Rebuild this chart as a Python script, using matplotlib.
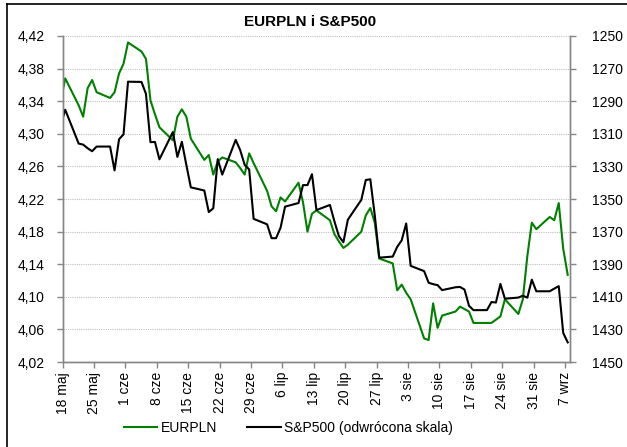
import pandas as pd
import matplotlib
matplotlib.use("Agg")
import matplotlib.pyplot as plt
from matplotlib.lines import Line2D


# Trading days shown on the chart (2012)
dates = [
    "2012-05-17", "2012-05-18", "2012-05-21", "2012-05-22", "2012-05-23",
    "2012-05-24", "2012-05-25", "2012-05-28", "2012-05-29", "2012-05-30",
    "2012-05-31", "2012-06-01", "2012-06-04", "2012-06-05", "2012-06-06",
    "2012-06-07", "2012-06-08", "2012-06-11", "2012-06-12", "2012-06-13",
    "2012-06-14", "2012-06-15", "2012-06-18", "2012-06-19", "2012-06-20",
    "2012-06-21", "2012-06-22", "2012-06-25", "2012-06-26", "2012-06-27",
    "2012-06-28", "2012-06-29", "2012-07-02", "2012-07-03", "2012-07-04",
    "2012-07-05", "2012-07-06", "2012-07-09", "2012-07-10", "2012-07-11",
    "2012-07-12", "2012-07-13", "2012-07-16", "2012-07-17", "2012-07-18",
    "2012-07-19", "2012-07-20", "2012-07-23", "2012-07-24", "2012-07-25",
    "2012-07-26", "2012-07-27", "2012-07-30", "2012-07-31", "2012-08-01",
    "2012-08-02", "2012-08-03", "2012-08-06", "2012-08-07", "2012-08-08",
    "2012-08-09", "2012-08-10", "2012-08-13", "2012-08-14", "2012-08-15",
    "2012-08-16", "2012-08-17", "2012-08-20", "2012-08-21", "2012-08-22",
    "2012-08-23", "2012-08-24", "2012-08-27", "2012-08-28", "2012-08-29",
    "2012-08-30", "2012-08-31", "2012-09-03", "2012-09-04", "2012-09-05",
    "2012-09-06", "2012-09-07",
]

eurpln = [
    4.340, 4.368, 4.335, 4.321, 4.356, 4.366, 4.351, 4.344, 4.351, 4.374,
    4.386, 4.412, 4.401, 4.392, 4.341, 4.324, 4.308, 4.292, 4.321, 4.330,
    4.321, 4.294, 4.268, 4.274, 4.250, 4.266, 4.271, 4.265, 4.258, 4.250,
    4.276, 4.264, 4.230, 4.211, 4.205, 4.222, 4.217, 4.240, 4.216, 4.180,
    4.202, 4.206, 4.194, 4.177, 4.168, 4.160, 4.164, 4.180, 4.200, 4.209,
    4.191, 4.147, 4.141, 4.108, 4.115, 4.105, 4.097, 4.049, 4.047, 4.092,
    4.062, 4.077, 4.082, 4.088, 4.085, 4.082, 4.068, 4.068, 4.068, 4.072,
    4.076, 4.097, 4.079, 4.097, 4.150, 4.191, 4.183, 4.198, 4.194, 4.215,
    4.159, 4.127,
]

sp500 = [
    1304.86, 1295.22, 1315.99, 1316.63, 1318.86, 1320.68, 1317.82, 1317.82,
    1332.42, 1313.32, 1310.33, 1278.04, 1278.18, 1285.50, 1315.13, 1314.99,
    1325.66, 1308.93, 1324.18, 1314.88, 1329.10, 1342.84, 1344.78, 1357.98,
    1355.69, 1325.51, 1335.02, 1313.72, 1319.99, 1329.04, 1331.85, 1362.16,
    1365.51, 1374.02, 1374.02, 1367.58, 1354.68, 1352.46, 1341.47, 1341.45,
    1334.76, 1356.78, 1353.64, 1363.67, 1372.78, 1376.51, 1362.66, 1350.52,
    1338.31, 1337.89, 1360.02, 1385.97, 1385.30, 1379.32, 1375.32, 1365.00,
    1390.99, 1394.23, 1401.35, 1402.22, 1402.80, 1405.87, 1404.11, 1403.93,
    1405.53, 1415.51, 1418.16, 1418.13, 1413.17, 1413.49, 1402.08, 1411.13,
    1410.44, 1409.30, 1410.49, 1399.48, 1406.58, 1406.58, 1404.94, 1403.44,
    1432.12, 1437.92,
]

# Weekly tick labels (Fridays)
tick_labels = [
    "18 maj", "25 maj", "1 cze", "8 cze", "15 cze", "22 cze", "29 cze",
    "6 lip", "13 lip", "20 lip", "27 lip", "3 sie", "10 sie", "17 sie",
    "24 sie", "31 sie", "7 wrz",
]
left_ticks = [4.02, 4.06, 4.10, 4.14, 4.18, 4.22, 4.26, 4.30, 4.34, 4.38, 4.42]
right_ticks = [1250, 1270, 1290, 1310, 1330, 1350, 1370, 1390, 1410, 1430, 1450]

plt.rcParams["font.family"] = ["Liberation Sans", "DejaVu Sans"]
axis_grey = "#868686"

# Days counted from 18 May, points sit inside the day slot like in Excel
start = pd.Timestamp("2012-05-18")
x = (pd.to_datetime(dates) - start).days + 0.6

fig = plt.figure(figsize=(6.27, 4.47), dpi=100)
ax = fig.add_axes([0.0997, 0.190, 0.8086, 0.7295])
ax2 = ax.twinx()

ax.plot(x, eurpln, color="#008000", lw=1.5, label="EURPLN")
ax2.plot(x, sp500, color="black", lw=1.5, label="S&P500 (odwrócona skala)")

# X axis
ax.set_xlim(0, 113)
ax.set_xticks(range(0, 113, 7))
ax.set_xticklabels(tick_labels, rotation=90, fontsize=10)

# Left axis
ax.set_ylim(4.02, 4.42)
ax.set_yticks(left_ticks)
ax.set_yticklabels([f"{v:.2f}".replace(".", ",") for v in left_ticks], fontsize=10)
ax.yaxis.grid(True, linestyle=(0, (1, 1)), color="#c0c0c0", lw=0.8)
ax.set_axisbelow(True)

# Right axis, reversed scale
ax2.set_ylim(1450, 1250)
ax2.set_yticks(right_ticks)
ax2.set_yticklabels([str(v) for v in right_ticks], fontsize=10)

for a in (ax, ax2):
    a.spines["top"].set_visible(False)
    for s in ("left", "right", "bottom"):
        a.spines[s].set_color(axis_grey)
        a.spines[s].set_linewidth(1.0)
    a.tick_params(colors=axis_grey, labelcolor="black", length=4, width=1.0)
ax.tick_params(axis="y", pad=9)
ax2.tick_params(axis="y", pad=12)
ax.tick_params(axis="x", pad=3)

fig.text(0.494, 0.951, "EURPLN i S&P500", ha="center", va="center",
         fontsize=11, fontweight="bold")

# Legend under the chart
handles = [
    Line2D([], [], color="#008000", lw=1.5),
    Line2D([], [], color="black", lw=1.5),
]
fig.legend(handles, ["EURPLN", "S&P500 (odwrócona skala)"], loc="center",
           bbox_to_anchor=(0.46, 0.043), ncol=2, frameon=False, fontsize=10,
           handlelength=2.4, handletextpad=0.25, columnspacing=2.2)

# Chart area border (left and top edges visible)
fig.add_artist(Line2D([6.7 / 627, 6.7 / 627], [0, 1 - 4 / 447],
                      transform=fig.transFigure, color="black", lw=1.2))
fig.add_artist(Line2D([6.7 / 627, 1], [1 - 4 / 447, 1 - 4 / 447],
                      transform=fig.transFigure, color="black", lw=1.2))

fig.savefig("out.png", dpi=100)
